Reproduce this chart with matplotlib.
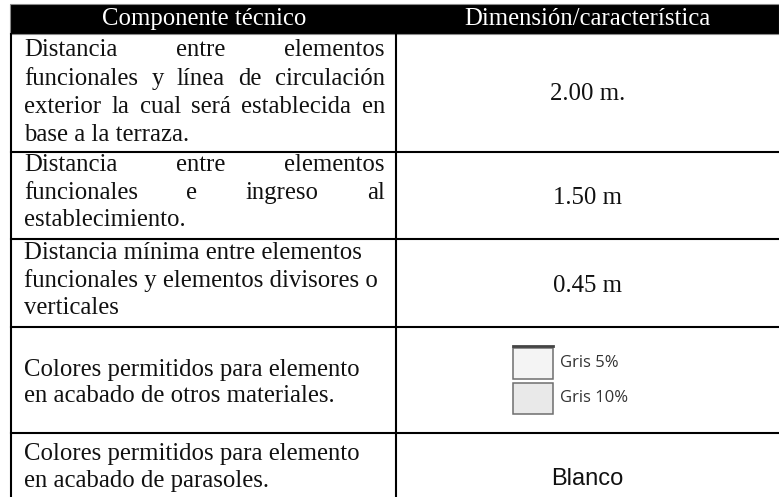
import matplotlib.pyplot as plt
from matplotlib.patches import Rectangle

# table content
headers = ["Componente técnico", "Dimensión/característica"]
left_rows = [
    ["Distancia entre elementos",
     "funcionales y línea de circulación",
     "exterior la cual será establecida en",
     "base a la terraza."],
    ["Distancia entre elementos",
     "funcionales e ingreso al",
     "establecimiento."],
    ["Distancia mínima entre elementos",
     "funcionales y elementos divisores o",
     "verticales"],
    ["Colores permitidos para elemento",
     "en acabado de otros materiales."],
    ["Colores permitidos para elemento",
     "en acabado de parasoles."],
]
justified = [True, True, False, False, False]
right_values = ["2.00 m.", "1.50 m", "0.45 m", None, "Blanco"]
swatch_labels = ["Gris 5%", "Gris 10%"]
swatch_colors = ["#f4f4f4", "#e9e9e9"]

# layout (pixels)
W, H = 779, 497
x_left, x_mid, x_right = 11.5, 396, 779
row_edges = [34, 152, 239, 327, 433, 497]
left_baselines = [[56, 85, 113, 141], [171, 199, 226], [259, 287, 314],
                  [376, 402], [460, 487]]
right_baselines = [100, 204, 292, None, 485]
text_x0, text_x1 = 24, 385
fs = 17.8

fig = plt.figure(figsize=(W / 100, H / 100), dpi=100)
ax = fig.add_axes([0, 0, 1, 1])
ax.set_xlim(0, W)
ax.set_ylim(H, 0)
ax.axis('off')
renderer = fig.canvas.get_renderer()
serif = dict(family='Liberation Serif', fontsize=fs, color='#111111')

# header bar
ax.add_patch(Rectangle((10, 4), W - 10, row_edges[0] - 4, facecolor='black',
                       edgecolor='#8a8a8a', lw=0.8))
hy = 25
ax.text((x_left + x_mid) / 2, hy, headers[0], ha='center', va='baseline',
        family='Liberation Serif', fontsize=fs, color='white')
ax.text((x_mid + x_right) / 2, hy, headers[1], ha='center', va='baseline',
        family='Liberation Serif', fontsize=fs, color='white')

# grid lines
lw = 1.5
ax.plot([x_left, x_left], [row_edges[0], H], color='black', lw=lw)
ax.plot([x_mid, x_mid], [row_edges[0], H], color='black', lw=lw)
for y in row_edges[1:-1]:
    ax.plot([x_left, x_right], [y, y], color='black', lw=lw)


def put_line(text, y, justify):
    if not justify:
        ax.text(text_x0, y, text, ha='left', va='baseline', **serif)
        return
    words = text.split()
    items = [ax.text(0, y, w, ha='left', va='baseline', **serif) for w in words]
    widths = [t.get_window_extent(renderer).width for t in items]
    gap = (text_x1 - text_x0 - sum(widths)) / (len(words) - 1)
    x = text_x0
    for t, w in zip(items, widths):
        t.set_x(x)
        x += w + gap


for i, lines in enumerate(left_rows):
    for j, line in enumerate(lines):
        just = justified[i] and j < len(lines) - 1
        put_line(line, left_baselines[i][j], just)

cx = (x_mid + x_right) / 2
for i, val in enumerate(right_values):
    if val is None:
        continue
    if val == "Blanco":
        ax.text(cx, right_baselines[i], val, ha='center', va='baseline',
                family='Liberation Sans', fontsize=17, color='#111111')
    else:
        ax.text(cx, right_baselines[i], val, ha='center', va='baseline', **serif)

# colour swatches
ax.plot([513, 553], [345.5, 345.5], color='#444444', lw=2)
sw_tops = [348, 383]
for top, lab, col in zip(sw_tops, swatch_labels, swatch_colors):
    ax.add_patch(Rectangle((513, top), 40, 31, facecolor=col,
                           edgecolor='#6e6e6e', lw=1.1))
    ax.text(560, top + 15, lab, ha='left', va='center', family='Open Sans',
            fontsize=12, color='#333333')

fig.savefig('out.png', dpi=100)
